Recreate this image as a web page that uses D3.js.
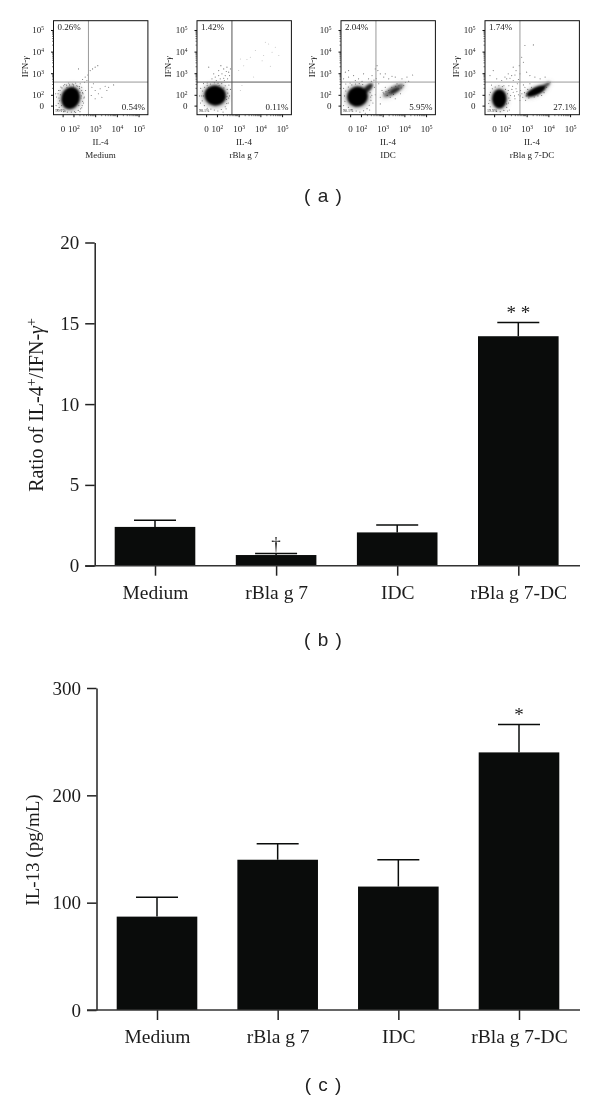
<!DOCTYPE html>
<html><head><meta charset="utf-8">
<script src="https://cdn.jsdelivr.net/npm/d3@7"></script>
<style>
html,body{margin:0;padding:0;background:#fff}
svg{display:block;opacity:.999}
text{font-family:"Liberation Serif",serif;fill:#1c1c1c}
.cap{font-family:"Liberation Sans",sans-serif;font-size:19px;fill:#222;word-spacing:2px}
</style></head><body>
<svg id="c" width="600" height="1101"></svg>
<script>
// ---------- Data ----------
const categories = ["Medium", "rBla g 7", "IDC", "rBla g 7-DC"];
const ratioValues = [2.4, 0.66, 2.06, 14.2];
const ratioErrTop = [2.82, 0.76, 2.52, 15.05];
const ratioTicks = [0, 5, 10, 15, 20];
const il13Values = [87, 140, 115, 240];
const il13ErrTop = [105, 155, 140, 266];
const il13Ticks = [0, 100, 200, 300];
const ratioMarks = ["", "†", "", "* *"];
const il13Marks = ["", "", "", "*"];

// Flow panels: axis position is in decades (2 = 10^2 ...); "0" sits at 1.5 on the biexponential axis
const flowTickPos = [1.5, 2, 3, 4, 5];
const flowTickLabels = [["0"], ["10", "2"], ["10", "3"], ["10", "4"], ["10", "5"]];
const flowDomain = [1.08, 5.43];
const gateX = 2.69, gateY = 2.59;
const flowTitles = ["Medium", "rBla g 7", "IDC", "rBla g 7-DC"];
const pctUpperLeft = ["0.26%", "1.42%", "2.04%", "1.74%"];
const pctLowerRight = ["0.54%", "0.11%", "5.95%", "27.1%"];
const pctLowerLeft = ["99.1%", "98.1%", "90.1%", "19.5%"];

// Dense populations, estimated as [x, y, halfWidth, halfHeight, tilt, density] in decades
const denseMedium = [[1.87, 1.85, 0.46, 0.56, 15, 1]];
const denseBla = [[1.92, 1.97, 0.54, 0.5, 10, 1]];
const denseIDC = [[1.84, 1.92, 0.52, 0.5, -25, 1], [2.32, 2.3, 0.32, 0.14, -45, 0.8], [3.5, 2.2, 0.58, 0.2, -30, 0.45], [3.55, 2.2, 0.26, 0.08, -30, 0.7]];
const denseDC = [[1.74, 1.82, 0.36, 0.48, 0, 1], [3.43, 2.17, 0.52, 0.19, -25, 1], [3.9, 2.45, 0.24, 0.09, -35, 0.6]];

// Sparse events
const eventsMedium = [[3,3.28],[3.12,3.35],[2.88,3.2],[2.77,3.12],[2.66,2.92],[2.54,2.82],[2.42,2.71],[2.31,2.51],[2.2,2.4],[2.51,2.58],[2.38,2.35],[2.62,2.66],[2.23,3.2],[2.85,2.35],[3,2.2],[3.23,2.28],[3.46,2.4],[3.54,2.2],[3.85,2.46],[3.31,1.89],[3,1.82],[2.82,1.97],[3.15,2.05],[3.62,2.35],[2.92,2.51],
[1.31,2.2],[1.42,2.36],[1.6,2.48],[1.78,2.55],[1.95,2.5],[2.1,2.55],[2.28,2.3],[2.42,2.1],[2.5,1.9],[2.46,1.62],[2.38,1.4],[2.3,1.22],[2.1,1.18],[1.22,1.9],[1.2,1.5],[1.27,1.3],[2.56,2.2],[2.36,1.95],[1.18,2.05],
[1.3,1.6],[1.33,1.85],[1.29,2.05],[1.38,2.2],[1.47,2.32],[1.55,2.42],[1.68,2.45],[1.82,2.46],[2,2.46],[2.15,2.42],[2.28,2.38],[2.38,2.2],[2.44,2.05],[2.48,1.85],[2.42,1.7],[2.4,1.5],[2.33,1.35],[2.22,1.28],[2.05,1.22],[1.9,1.2],[1.72,1.2],[1.55,1.22],[1.4,1.3],[1.34,1.42],[1.36,1.72],[1.4,2],[2.35,1.85],[2.3,2.12],[2,2.36],[1.7,2.35],[1.45,1.5],[2.25,1.5]];
const eventsBla = [[2.31,3.2],[2.46,3.28],[2.08,3.12],[2.23,2.97],[2.38,2.89],[2.54,3.05],[1.92,2.82],[1.77,2.74],[2.15,2.74],[2.31,2.77],[2.49,2.74],[1.62,3.28],[2.58,2.89],[2.08,2.89],[2.43,3.08],[1.85,2.97],[2.62,3.2],[2.18,3.35],[1.97,2.66],[2.34,2.66],
[1.25,2.3],[1.38,2.52],[1.55,2.55],[2.55,2.45],[2.62,2.25],[2.58,1.95],[2.52,1.62],[2.42,1.35],[2.28,1.2],[1.24,1.62],[1.2,1.95],
[1.32,1.72],[1.3,1.95],[1.34,2.18],[1.43,2.35],[1.55,2.44],[1.7,2.5],[1.88,2.56],[2.05,2.54],[2.22,2.52],[2.38,2.42],[2.47,2.25],[2.5,2.08],[2.54,1.85],[2.45,1.6],[2.38,1.45],[2.2,1.32],[2.04,1.25],[1.88,1.3],[1.72,1.34],[1.55,1.38],[1.42,1.5],[2.46,1.92],[2.32,2.32],[1.62,2.34],[1.38,1.95],[2.44,1.78],[2.1,2.44]];
const faintBla = [[3.08,3.66],[3.38,3.63],[3.77,4.05],[4.15,3.82],[4.23,4.43],[4.54,3.97],[4.69,4.2],[4.46,3.32],[3.69,2.82],[3.23,3.35],[3,3.12],[4.38,4.35],[4.08,3.58],[3.54,3.74],[4.85,3.82],[3.15,2.43],[3.08,2.2]];
const eventsIDC = [[1.28,3.05],[1.43,2.82],[1.2,2.74],[1.66,2.89],[1.89,2.74],[2.12,2.97],[2.35,2.74],[2.51,2.89],[2.66,3.2],[2.78,3.12],[2.89,2.97],[3.05,2.82],[3.28,2.74],[3.58,2.82],[3.89,2.74],[4.12,2.82],[4.38,2.92],[1.43,3.12],[1.74,2.66],[2.74,3.35],[3.12,2.97],[3.43,2.86],
[3.05,2.05],[3.2,1.97],[3.35,1.89],[2.97,2.2],[2.89,1.89],[3.82,2.05],[3.97,2.43],[3.12,2.35],[2.82,2.51],[3.66,2.51],[2.89,1.58],[3.58,1.82],[4.05,2.58],[4.2,2.62],[3.74,2.28],[3.28,2.2],
[1.2,2.3],[1.3,2.5],[1.5,2.55],[2.45,1.9],[2.55,1.62],[2.4,1.3],[2.2,1.15],[2.66,2],[1.2,1.5],[2.62,2.35],[2.05,2.62],
[1.26,1.7],[1.24,1.95],[1.3,2.18],[1.42,2.36],[1.58,2.46],[1.75,2.5],[1.92,2.52],[2.08,2.48],[2.42,2.1],[2.5,1.98],[2.46,1.75],[2.38,1.52],[2.28,1.36],[2.12,1.26],[1.95,1.2],[1.78,1.25],[1.58,1.32],[1.42,1.42],[2.7,2.75],[2.6,2.68],[2.48,2.62],[3.3,2.1],[3.42,2.35],[3.22,1.98],[3.5,2.02],[3.75,2.42],[3.6,2.4],[3.02,2.12],[3.15,2.15],[3.85,2.32]];
const eventsDC = [[2.92,4.28],[3.31,4.31],[2.38,3.28],[2.51,3.12],[2.66,3.35],[2.15,2.97],[2.31,2.89],[2,2.82],[2.08,2.74],[2.23,2.77],[2.46,2.92],[1.46,3.12],[1.31,2.89],[1.62,2.74],[1.85,2.66],[2.69,2.97],[2.85,3.51],[2.77,3.74],[3,3.05],[3.15,2.89],[3.38,2.82],[3.62,2.74],[3.85,2.82],[2.62,2.71],[2.38,2.66],
[2.15,2.2],[2.26,1.97],[2.38,2.12],[2.51,2.28],[2.62,2],[2.72,2.2],[2.82,1.89],[2.92,2.35],[2.23,1.74],[2.46,1.82],[2.69,1.74],[2.08,1.58],[2.35,2.4],[3,2.05],[2.57,2.51],[2.85,2.46],[4.08,2.58],[3.92,2.35],[3.69,1.97],[3.15,2.51],
[2.18,2.42],[1.95,2.42],[2.2,1.3],[2.12,1.25],[1.28,2],[1.25,1.6],[1.38,2.45],[2.95,1.75],[3.1,1.85],
[1.32,1.45],[1.3,1.75],[1.33,2.12],[1.42,2.28],[1.55,2.36],[1.72,2.42],[1.88,2.38],[2.02,2.25],[2.12,2.05],[2.18,1.85],[2.16,1.62],[2.08,1.42],[1.95,1.28],[1.78,1.22],[1.6,1.24],[1.45,1.3],[2.32,2.25],[2.44,1.95],[2.55,2.15],[2.78,2.05],[2.7,1.95],[2.9,2.1],[3.05,2.25],[3.22,2.35],[2.98,1.95],[3.35,1.9],[3.52,1.95],[3.8,2.1]];
const panelDense = [denseMedium, denseBla, denseIDC, denseDC];
const panelEvents = [eventsMedium, eventsBla, eventsIDC, eventsDC];
const panelFaint = [[], faintBla, [], []];

// ---------- Layout ----------
const svg = d3.select("#c");
const ink = "#0a0c0b";
const defs = svg.append("defs");
defs.append("filter").attr("id","soft").attr("x","-40%").attr("y","-40%").attr("width","180%").attr("height","180%")
  .append("feGaussianBlur").attr("stdDeviation",1.3);
defs.append("filter").attr("id","halo").attr("x","-40%").attr("y","-40%").attr("width","180%").attr("height","180%")
  .append("feGaussianBlur").attr("stdDeviation",2);

const panelLefts = [53.5, 197, 341, 485];
const panelW = 94.4, panelTop = 20.7, panelH = 94;
const minorOffsets = [0.3, 0.48, 0.6, 0.7, 0.78, 0.85, 0.9, 0.95];

flowTitles.forEach((title, i) => {
  const g = svg.append("g").attr("transform", `translate(${panelLefts[i]},${panelTop})`);
  const x = d3.scaleLinear().domain(flowDomain).range([0, panelW]);
  const y = d3.scaleLinear().domain(flowDomain).range([panelH, 0]);
  const clip = "clip" + i;
  defs.append("clipPath").attr("id", clip).append("rect").attr("width", panelW).attr("height", panelH);
  const plot = g.append("g").attr("clip-path", `url(#${clip})`);
  const ell = (sel, k, fill, op, filt) => sel.append("g").attr("filter", `url(#${filt})`)
    .selectAll("ellipse").data(panelDense[i]).join("ellipse")
    .attr("transform", d => `translate(${x(d[0])},${y(d[1])}) rotate(${d[4]})`)
    .attr("rx", d => (x(d[0] + d[2]) - x(d[0])) * k)
    .attr("ry", d => (y(d[1]) - y(d[1] + d[3])) * k)
    .attr("fill", fill).attr("opacity", d => op * d[5]);
  ell(plot, 1.15, "#666", 0.5, "halo");
  ell(plot, 0.92, "#060606", 1, "soft");
  plot.append("g").selectAll("circle").data(panelEvents[i]).join("circle")
    .attr("cx", d => x(d[0])).attr("cy", d => y(d[1])).attr("r", 0.55)
    .attr("fill", "#333").attr("opacity", 0.7);
  plot.append("g").selectAll("circle").data(panelFaint[i]).join("circle")
    .attr("cx", d => x(d[0])).attr("cy", d => y(d[1])).attr("r", 0.5)
    .attr("fill", "#888").attr("opacity", 0.55);
  // gates
  g.append("line").attr("x1", x(gateX)).attr("x2", x(gateX)).attr("y1", 0).attr("y2", panelH).attr("stroke", i === 1 ? "#555" : "#999").attr("stroke-width", 1);
  g.append("line").attr("x1", 0).attr("x2", panelW).attr("y1", y(gateY)).attr("y2", y(gateY)).attr("stroke", i === 1 ? "#555" : "#999").attr("stroke-width", 1);
  g.append("rect").attr("width", panelW).attr("height", panelH).attr("fill", "none").attr("stroke", "#111").attr("stroke-width", 1);
  // axes
  const fmt = (sel, idx) => {
    sel.text("");
    const l = flowTickLabels[idx];
    sel.append("tspan").text(l[0]);
    if (l[1]) sel.append("tspan").attr("dy", -3).attr("font-size", 5.5).text(l[1]);
  };
  const ax = g.append("g").attr("transform", `translate(0,${panelH})`)
    .call(d3.axisBottom(x).tickValues(flowTickPos).tickSize(2.5).tickPadding(8).tickFormat(""));
  const ay = g.append("g").call(d3.axisLeft(y).tickValues(flowTickPos).tickSize(2.5).tickPadding(7).tickFormat(""));
  [ax, ay].forEach(a => { a.select(".domain").remove(); a.selectAll("line").attr("stroke", "#111"); a.selectAll("text").attr("font-size", 9).attr("fill", "#222").attr("font-family", "Liberation Serif"); });
  ax.selectAll(".tick text").each(function(d, k){ fmt(d3.select(this), k); });
  ay.selectAll(".tick text").each(function(d, k){ fmt(d3.select(this), k); });
  const minor = d3.range(2, 5).flatMap(d => minorOffsets.map(m => d + m));
  g.append("g").selectAll("line").data(minor).join("line")
    .attr("x1", d => x(d)).attr("x2", d => x(d)).attr("y1", panelH).attr("y2", panelH + 1.5).attr("stroke", "#222").attr("stroke-width", 0.6);
  g.append("g").selectAll("line").data(minor).join("line")
    .attr("y1", d => y(d)).attr("y2", d => y(d)).attr("x1", 0).attr("x2", -1.5).attr("stroke", "#222").attr("stroke-width", 0.6);
  // labels
  g.append("text").attr("x", 4).attr("y", 9).attr("font-size", 9).text(pctUpperLeft[i]);
  g.append("text").attr("x", panelW - 3).attr("y", 89).attr("text-anchor", "end").attr("font-size", 9).text(pctLowerRight[i]);
  g.append("text").attr("x", 2).attr("y", 91.5).attr("font-size", 4).text(pctLowerLeft[i]);
  g.append("text").attr("transform", `translate(-26,${46}) rotate(-90)`).attr("text-anchor", "middle").attr("font-size", 9).text("IFN-").append("tspan").attr("font-style", "italic").text("γ");
  g.append("text").attr("x", 47).attr("y", 124).attr("text-anchor", "middle").attr("font-size", 9).text("IL-4");
  g.append("text").attr("x", 47).attr("y", 137.5).attr("text-anchor", "middle").attr("font-size", 9).text(title);
});

function barChart(o) {
  const g = svg.append("g");
  const x = d3.scalePoint().domain(categories).range(o.xr);
  const y = d3.scaleLinear().domain(o.dom).range([o.y0, o.y1]);
  g.selectAll("rect").data(o.values).join("rect")
    .attr("x", (d, i) => x(categories[i]) - 40.3).attr("width", 80.6)
    .attr("y", d => y(d)).attr("height", d => y(0) - y(d)).attr("fill", ink);
  const err = g.append("g").selectAll("g").data(o.err).join("g");
  err.append("line").attr("x1", (d, i) => x(categories[i])).attr("x2", (d, i) => x(categories[i]))
    .attr("y1", (d, i) => y(o.values[i])).attr("y2", d => y(d)).attr("stroke", ink).attr("stroke-width", 1.5);
  err.append("line").attr("x1", (d, i) => x(categories[i]) - 21).attr("x2", (d, i) => x(categories[i]) + 21)
    .attr("y1", d => y(d)).attr("y2", d => y(d)).attr("stroke", ink).attr("stroke-width", 1.5);
  const ay = g.append("g").attr("transform", `translate(${o.ax},0)`)
    .call(d3.axisLeft(y).tickValues(o.ticks).tickSize(9.5).tickSizeOuter(0).tickPadding(6));
  ay.selectAll("line").attr("stroke", "#222").attr("stroke-width", 1.5);
  ay.select(".domain").attr("stroke", "#222").attr("stroke-width", 1.5);
  ay.selectAll("text").attr("font-size", 19).attr("font-family", "Liberation Serif").attr("fill", "#1c1c1c");
  const ax = g.append("g").attr("transform", `translate(0,${o.y0})`)
    .call(d3.axisBottom(x).tickSize(10).tickSizeOuter(0).tickPadding(9.5));
  ax.select(".domain").remove();
  ax.selectAll("line").attr("stroke", "#222").attr("stroke-width", 1.5);
  ax.selectAll("text").attr("font-size", 19.5).attr("font-family", "Liberation Serif").attr("fill", "#1c1c1c");
  g.append("line").attr("x1", o.ax - 9.5).attr("x2", 580).attr("y1", o.y0).attr("y2", o.y0).attr("stroke", "#333").attr("stroke-width", 1.5);
  g.append("g").selectAll("text").data(o.marks).join("text")
    .attr("x", (d, i) => x(categories[i])).attr("y", (d, i) => y(o.err[i]) - 3)
    .attr("text-anchor", "middle").attr("font-size", 19).text(d => d);
  return g;
}

barChart({values: ratioValues, err: ratioErrTop, ticks: ratioTicks, dom: [0, 20], xr: [155, 518.3], y0: 565.7, y1: 242.5, ax: 94.7, marks: ratioMarks});
barChart({values: il13Values, err: il13ErrTop, ticks: il13Ticks, dom: [0, 300], xr: [157, 519], y0: 1010, y1: 688, ax: 96.5, marks: il13Marks});

const yl = svg.append("text").attr("transform", "translate(43,405) rotate(-90)").attr("text-anchor", "middle").attr("font-size", 20);
yl.append("tspan").text("Ratio of IL-4");
yl.append("tspan").attr("dy", -7).attr("font-size", 14).text("+");
yl.append("tspan").attr("dy", 7).text("/IFN-");
yl.append("tspan").attr("font-style", "italic").text("γ");
yl.append("tspan").attr("dy", -7).attr("font-size", 14).text("+");
svg.append("text").attr("transform", "translate(38.5,850) rotate(-90)").attr("text-anchor", "middle").attr("font-size", 19).text("IL-13 (pg/mL)");

[["( a )", 196], ["( b )", 640], ["( c )", 1085]].forEach(([t, yy]) => {
  svg.append("text").attr("class", "cap").attr("x", 323).attr("y", yy + 6).attr("text-anchor", "middle").text(t);
});
</script></body></html>
